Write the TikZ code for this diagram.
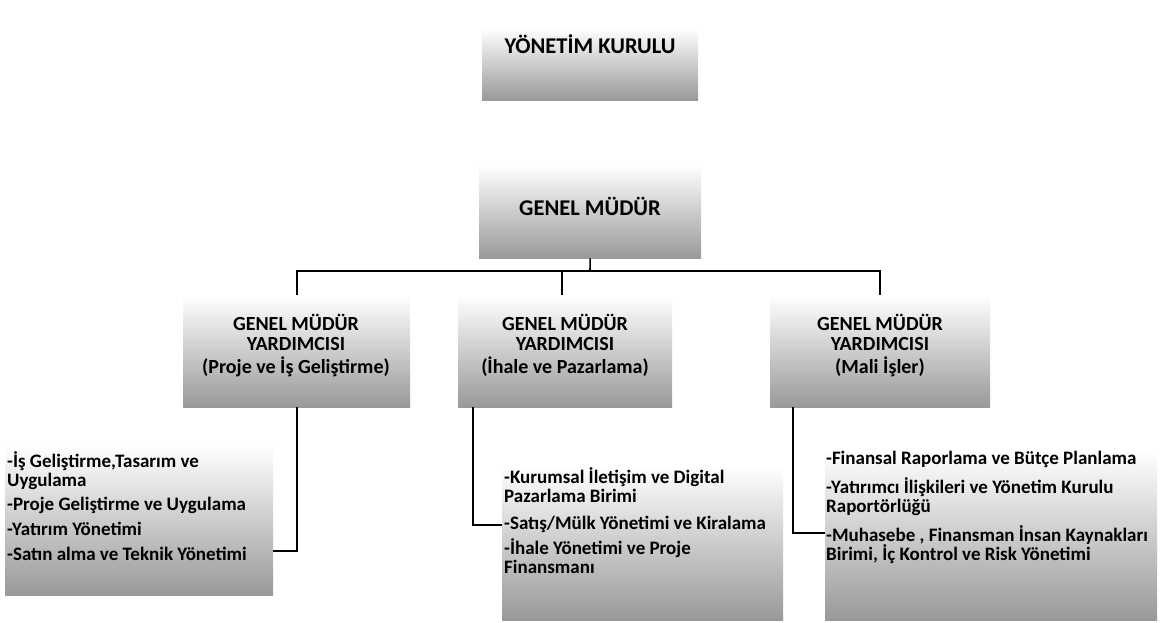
\documentclass[tikz,border=0pt]{standalone}
\usepackage{fontspec}
\setmainfont{Carlito}
\begin{document}
\begin{tikzpicture}[x=1pt,y=1pt,
  box/.style={draw=none,rectangle,inner sep=0pt,top color=white,middle color=black!10,bottom color=black!40,shading angle=0},
  head/.style={font=\bfseries\fontsize{22.5}{24}\selectfont,align=center,inner sep=0pt},
  sub/.style={font=\bfseries\fontsize{20}{20}\selectfont,align=center,inner sep=0pt},
  lst/.style={font=\bfseries\fontsize{19}{19}\selectfont,align=left,inner sep=0pt,anchor=north west},
  conn/.style={line width=1.6pt}]
\useasboundingbox (0,0) rectangle (1163,-622);
% boxes
\node[box,minimum width=216,minimum height=72,anchor=north west] (yk) at (482,-28) {};
\node[box,minimum width=222,minimum height=93,anchor=north west] (gm) at (479,-165) {};
\node[box,minimum width=227,minimum height=112,anchor=north west] (g1) at (183,-295) {};
\node[box,minimum width=214,minimum height=112,anchor=north west] (g2) at (458,-295) {};
\node[box,minimum width=220,minimum height=112,anchor=north west] (g3) at (770,-295) {};
\node[box,minimum width=268,minimum height=150,anchor=north west] (l1) at (5,-445) {};
\node[box,minimum width=281,minimum height=155,anchor=north west] (l2) at (502,-465) {};
\node[box,minimum width=332,minimum height=170,anchor=north west] (l3) at (825,-450) {};
% texts
\node[head] (ykt) at (590,-44) {YÖNETİM KURULU};
\node[head] (gmt) at (590,-206) {GENEL MÜDÜR};
\node[sub,anchor=north] (g1t) at (296,-314) {GENEL MÜDÜR\\YARDIMCISI\\[3pt](Proje ve İş Geliştirme)};
\node[sub,anchor=north] (g2t) at (565,-314) {GENEL MÜDÜR\\YARDIMCISI\\[3pt](İhale ve Pazarlama)};
\node[sub,anchor=north] (g3t) at (880,-314) {GENEL MÜDÜR\\YARDIMCISI\\[3pt](Mali İşler)};
\node[lst] (l1t) at (7,-451) {-İş Geliştirme,Tasarım ve\\Uygulama\\[5pt]-Proje  Geliştirme ve Uygulama\\[6pt]-Yatırım Yönetimi\\[6pt]-Satın alma ve Teknik Yönetimi};
\node[lst] (l2t) at (504,-467) {-Kurumsal İletişim ve Digital\\Pazarlama Birimi\\[8pt]-Satış/Mülk Yönetimi  ve Kiralama\\[5pt]-İhale Yönetimi  ve Proje\\Finansmanı};
\node[lst] (l3t) at (826,-451) {-Finansal Raporlama ve Bütçe Planlama\\[9pt]-Yatırımcı İlişkileri ve Yönetim Kurulu\\Raportörlüğü\\[9pt]-Muhasebe , Finansman İnsan Kaynakları\\Birimi, İç Kontrol ve Risk Yönetimi};
% connectors
\coordinate (bus) at (590,-271);
\coordinate (c1) at (297,-551);
\coordinate (c2) at (473,-525);
\coordinate (c3) at (793,-533);
\draw[conn] (gm.south) -- (bus);
\draw[conn] (g1.north) |- (bus) -| (g3.north);
\draw[conn] (g2.north -| 562,0) -- (562,-271);
\draw[conn] (g1.south -| c1) -- (c1) -- (c1 -| l1.east);
\draw[conn] (g2.south -| c2) -- (c2) -- (c2 -| l2.west);
\draw[conn] (g3.south -| c3) -- (c3) -- (c3 -| l3.west);
\end{tikzpicture}
\end{document}
